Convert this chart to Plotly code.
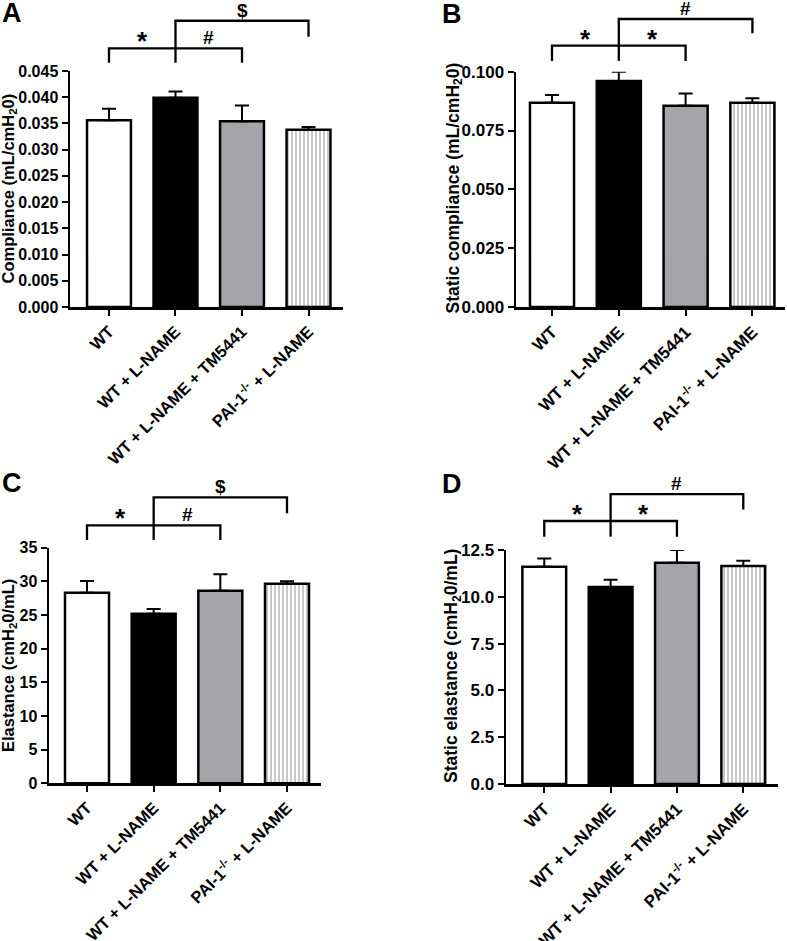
import plotly.graph_objects as go

W, H = 787, 941

categories = ["WT", "WT + L-NAME", "WT + L-NAME + TM5441", "PAI-1<sup>-/-</sup> + L-NAME"]

compliance_mean = [0.0356, 0.0399, 0.0354, 0.0338]
compliance_sem = [0.0022, 0.0012, 0.0030, 0.0005]

static_compliance_mean = [0.0868, 0.0960, 0.0855, 0.0868]
static_compliance_sem = [0.0033, 0.0040, 0.0052, 0.0019]

elastance_mean = [28.3, 25.2, 28.6, 29.65]
elastance_sem = [1.75, 0.7, 2.45, 0.35]

static_elastance_mean = [11.61, 10.52, 11.82, 11.65]
static_elastance_sem = [0.43, 0.39, 0.68, 0.28]

bar_colors = ["white", "black", "#a5a5a9", "white"]
bar_patterns = ["", "", "", "|"]

# significance symbols: lower-left, lower-right, upper
sig_A = ["*", "#", "$"]
sig_B = ["*", "*", "#"]
sig_C = ["*", "#", "$"]
sig_D = ["*", "*", "#"]

FONT = "Liberation Sans, Arial, sans-serif"


def px_x(p):
    return p / W


def px_y(p):
    return 1 - p / H


panels = [
    dict(key="", mean=compliance_mean, sem=compliance_sem, ymax=0.045, dtick=0.005, fmt=".3f",
         xdom=(70, 342.7), ydom=(307, 71), xr=(-0.586, 3.514), fs=16, xfs=16.5,
         title="Compliance (mL/cmH<sub>2</sub>0)", tx=8.5, ty=189, letter="A", lx=12, ly=13,
         sig=sig_A, low=(1.096, 1.035), up=(1.213, 1.145)),
    dict(key="2", mean=static_compliance_mean, sem=static_compliance_sem, ymax=0.1, dtick=0.025, fmt=".3f",
         xdom=(516, 785), ydom=(307, 71.7), xr=(-0.539, 3.488), fs=17, xfs=17,
         title="Static compliance (mL/cmH<sub>2</sub>0)", tx=453.5, ty=188, letter="B", lx=452.5, ly=14,
         sig=sig_B, low=(1.111, 1.046), up=(1.224, 1.163)),
    dict(key="3", mean=elastance_mean, sem=elastance_sem, ymax=35, dtick=5, fmt="d",
         xdom=(49, 321), ydom=(783.3, 547.7), xr=(-0.57, 3.51), fs=16, xfs=16.5,
         title="Elastance (cmH<sub>2</sub>0/mL)", tx=9, ty=666, letter="C", lx=12, ly=483,
         sig=sig_C, low=(1.095, 1.033), up=(1.214, 1.146)),
    dict(key="4", mean=static_elastance_mean, sem=static_elastance_sem, ymax=12.5, dtick=2.5, fmt=".1f",
         xdom=(506, 778.3), ydom=(784, 550), xr=(-0.577, 3.528), fs=17, xfs=17,
         title="Static elastance (cmH<sub>2</sub>0/mL)", tx=452, ty=666, letter="D", lx=452, ly=484,
         sig=sig_D, low=(1.124, 1.057), up=(1.239, 1.173)),
]

fig = go.Figure()
shapes = []
annotations = []
xpos = list(range(len(categories)))

for p in panels:
    k = p["key"]
    xa = "x" + k
    ya = "y" + k
    fig.add_trace(go.Bar(
        x=xpos, y=p["mean"], width=0.66,
        marker=dict(color=bar_colors, line=dict(color="black", width=2.5),
                    pattern=dict(shape=bar_patterns, fgcolor="#555555", bgcolor="white",
                                 size=4, solidity=0.3)),
        error_y=dict(type="data", array=p["sem"], arrayminus=[0] * len(p["sem"]), symmetric=False,
                     color="black", thickness=2, width=7),
        xaxis=xa, yaxis=ya, showlegend=False, hoverinfo="skip",
    ))
    axis_common = dict(showline=True, linecolor="black", linewidth=2.5, ticks="outside",
                       tickcolor="black", tickwidth=2, ticklen=6, showgrid=False, zeroline=False,
                       automargin=False,
                       tickfont=dict(family=FONT, size=p["fs"], color="black", weight="bold"))
    xname = "xaxis" + k
    yname = "yaxis" + k
    fig.update_layout(**{
        xname: dict(axis_common, domain=[px_x(p["xdom"][0]), px_x(p["xdom"][1])],
                    range=list(p["xr"]), tickvals=xpos, ticktext=categories, tickangle=-45,
                    tickfont=dict(family=FONT, size=p["xfs"], color="black", weight="bold"),
                    anchor=ya, fixedrange=True),
        yname: dict(axis_common, domain=[px_y(p["ydom"][0]), px_y(p["ydom"][1])],
                    range=[0, p["ymax"]], dtick=p["dtick"], tick0=0, tickformat=p["fmt"],
                    anchor=xa, fixedrange=True),
    })
    ydref = ya + " domain"
    lo, lo_drop = p["low"]
    upv, up_drop = p["up"]
    line = dict(color="black", width=2.3)
    # lower bracket: group 0 - group 2 with middle tick at group 1
    shapes.append(dict(type="path", xref=xa, yref=ydref,
                       path=f"M {xpos[0]},{lo_drop} L {xpos[0]},{lo} L {xpos[2]},{lo} L {xpos[2]},{lo_drop}",
                       line=line))
    shapes.append(dict(type="line", xref=xa, yref=ydref, x0=xpos[1], x1=xpos[1], y0=lo, y1=lo_drop, line=line))
    # upper bracket: group 1 - group 3
    shapes.append(dict(type="path", xref=xa, yref=ydref,
                       path=f"M {xpos[1]},{lo} L {xpos[1]},{upv} L {xpos[3]},{upv} L {xpos[3]},{up_drop}",
                       line=line))
    sym_pos = [((xpos[0] + xpos[1]) / 2, lo), ((xpos[1] + xpos[2]) / 2, lo), ((xpos[1] + xpos[3]) / 2, upv)]
    for s, (sx, sy) in zip(p["sig"], sym_pos):
        is_star = s == "*"
        annotations.append(dict(xref=xa, yref=ydref, x=sx, y=sy, text=s, showarrow=False,
                                xanchor="center", yanchor="bottom",
                                yshift=-10 if is_star else -2,
                                font=dict(family=FONT, size=26 if is_star else 19, color="black", weight="bold")))
    annotations.append(dict(xref="paper", yref="paper", x=px_x(p["tx"]), y=px_y(p["ty"]), text=p["title"],
                            textangle=-90, showarrow=False, xanchor="center", yanchor="middle",
                            font=dict(family=FONT, size=p["fs"] + 0.5, color="black", weight="bold")))
    annotations.append(dict(xref="paper", yref="paper", x=px_x(p["lx"]), y=px_y(p["ly"]), text=p["letter"],
                            showarrow=False, xanchor="center", yanchor="middle",
                            font=dict(family=FONT, size=27, color="black", weight="bold")))

fig.update_layout(
    width=W, height=H, margin=dict(l=0, r=0, t=0, b=0, autoexpand=False),
    paper_bgcolor="white", plot_bgcolor="white",
    bargap=0.3, shapes=shapes, annotations=annotations,
    font=dict(family=FONT, color="black"), hovermode=False,
)

fig.write_html("out.html", config={"displayModeBar": False, "staticPlot": True},
               post_script="document.body.style.margin='0px';document.body.style.overflow='hidden';")
